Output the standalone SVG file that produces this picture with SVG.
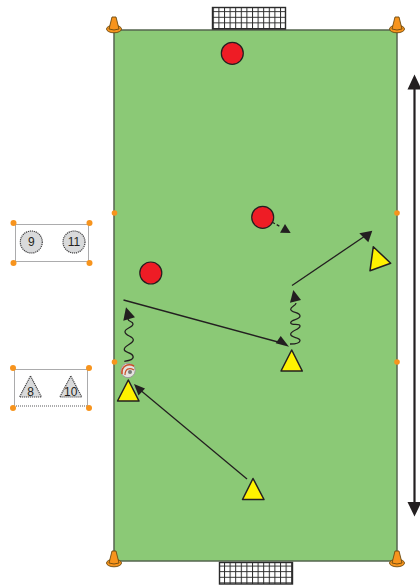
<svg xmlns="http://www.w3.org/2000/svg" width="420" height="585" viewBox="0 0 420 585">
<style>
.red{fill:#ee1c25;stroke:#231f20;stroke-width:1.2}
.yel{fill:#fff200;stroke:#231f20;stroke-width:1.5;stroke-linejoin:round}
.ln{fill:none;stroke:#231f20;stroke-width:1.3}
.hd{fill:#231f20}
.dot{fill:#f7941d}
.cone{fill:#f7941d;stroke:#6b4a10;stroke-width:.9}
.box{fill:#fff;stroke:#58595b;stroke-width:1.1;stroke-dasharray:1 1}
.bib{fill:#d9dadb;stroke:#414042;stroke-width:1.2;stroke-dasharray:1.2 .8}
.num{font-family:"Liberation Sans",Arial,sans-serif;font-size:12px;fill:#231f20;text-anchor:middle}
</style>
<defs>
<g id="cone"><ellipse cx="0" cy="12" rx="7.500" ry="3.800" class="cone"/><path d="M-2,0H2L5,12Q0,14-5,12Z" class="cone"/></g>
<pattern id="grid" width="5.600" height="5.600" patternUnits="userSpaceOnUse"><path d="M0,0H5.600M0,0V5.600" fill="none" stroke="#2b2b2b" stroke-width="2"/></pattern>
</defs>
<rect id="field" x="114" y="30" width="283" height="531" fill="#8bc976" stroke="#55664f" stroke-width="1.500"/>
<g id="goal-top"><rect x="212.500" y="7.500" width="73" height="21.500" fill="url(#grid)" stroke="#2b2b2b" stroke-width="1.400"/></g>
<g id="goal-bottom"><rect x="219.500" y="562.500" width="73" height="21.500" fill="url(#grid)" stroke="#2b2b2b" stroke-width="1.400"/></g>
<g id="cone-tl"><use href="#cone" x="114" y="17"/></g>
<g id="cone-tr"><use href="#cone" x="397" y="17"/></g>
<g id="cone-bl"><use href="#cone" x="114" y="551"/></g>
<g id="cone-br"><use href="#cone" x="397" y="551"/></g>
<g id="markers" class="dot"><circle cx="114.500" cy="213" r="2.800"/><circle cx="397" cy="213" r="2.800"/><circle cx="114.500" cy="362" r="2.800"/><circle cx="397" cy="362" r="2.800"/></g>
<g id="connectors">
<path class="ln" d="M247,479L139,389"/><path class="hd" d="M134,384L145,388.500L138.500,395.500Z"/>
<path class="ln" d="M123.500,300L278,342"/><path class="hd" d="M289,346.700L275.700,343.300L280.700,336Z"/>
<path class="ln" d="M292,285.500L365,236"/><path class="hd" d="M372.300,230.700L359.300,233.300L368.300,242.300Z"/>
<path class="ln" d="M272.300,222.300L281,227" stroke-dasharray="3 2"/><path class="hd" d="M285,224L290.700,233L280,232.700Z"/>
<path class="ln" d="M124.300,361.300C130,360.500 134,359.500 133,356C132,352 124,353 124.300,349.300C124.500,345 133,344 133.300,340C133.500,336 125,336 125,331.700C125,328 133,327.500 133,324C133,321 128,322 128,319"/>
<path class="hd" d="M126,307.300L135,317.300L123.300,320.700Z"/>
<path class="ln" d="M290,344C296,344 300,343 300,340.500C300,337 290.700,338 290.700,334.300C290.700,330 300,330 300,326C300,323 290.700,326 290.700,322.700C290.700,319 300,320 300,316C300,312 290.700,313 290.700,309.300C290.700,306 296,306 296,303"/>
<path class="hd" d="M293.300,290L301,300L290,302.700Z"/>
<path d="M414.500,85V506" fill="none" stroke="#231f20" stroke-width="2.200"/>
<path class="hd" d="M414.500,74.500L421.500,89.500H407.500Z"/><path class="hd" d="M414.500,516.500L421.500,502H407.500Z"/>
</g>
<g id="player-red-1"><circle class="red" cx="232.300" cy="53.300" r="11"/></g>
<g id="player-red-2"><circle class="red" cx="262.700" cy="217.300" r="11"/></g>
<g id="player-red-3"><circle class="red" cx="150.800" cy="273" r="11"/></g>
<g id="player-yellow-1"><path class="yel" d="M128.300,380L139,401H117.500Z"/></g>
<g id="player-yellow-2"><path class="yel" d="M291.700,350L302.300,371H281Z"/></g>
<g id="player-yellow-3"><path class="yel" d="M253,478.500L264,499.500H242.500Z"/></g>
<g id="player-yellow-4"><path class="yel" d="M373.300,246.700L390.700,263.300L370,270.700Z"/></g>
<g id="ball"><circle cx="128" cy="370.500" r="7.200" fill="#e4e2df" stroke="#9a9a9a" stroke-width="1"/><path d="M122,374C121,366 128,363 134,366" fill="none" stroke="#c9502a" stroke-width="1.600"/><path d="M125,375C125,369 129,367 134,370" fill="none" stroke="#c9502a" stroke-width="1.200"/><circle cx="130" cy="372" r="2" fill="#777"/></g>
<g id="legend-circles">
<rect class="box" x="15.500" y="224.500" width="73" height="37"/>
<g class="dot"><circle cx="13.500" cy="223" r="3"/><circle cx="89.500" cy="223" r="3"/><circle cx="13.500" cy="263" r="3"/><circle cx="89.500" cy="263" r="3"/></g>
<circle class="bib" cx="31.300" cy="242" r="11"/><text class="num" x="31.300" y="246.300">9</text>
<circle class="bib" cx="74" cy="242" r="11"/><text class="num" x="74" y="246.300">11</text>
</g>
<g id="legend-triangles">
<rect class="box" x="14.500" y="369.500" width="73" height="36.500"/>
<g class="dot"><circle cx="13" cy="368" r="3"/><circle cx="89" cy="368" r="3"/><circle cx="13" cy="408" r="3"/><circle cx="89" cy="408" r="3"/></g>
<path class="bib" d="M30.500,376L41.500,397H19.500Z"/><text class="num" x="30.500" y="395.500">8</text>
<path class="bib" d="M70.800,376L81.800,397H59.800Z"/><text class="num" x="70.800" y="395.500">10</text>
</g>
</svg>
